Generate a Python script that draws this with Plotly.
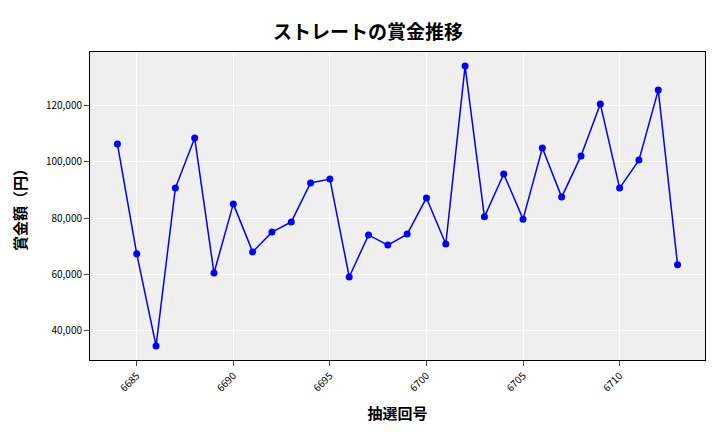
import plotly.graph_objects as go

draws = list(range(6684, 6714))
prizes = [106200, 67300, 34700, 90600, 108300, 60500, 85000, 68000, 75000, 78600,
          92400, 93800, 59100, 74000, 70400, 74300, 87100, 70800, 133800, 80400,
          95600, 79600, 104800, 87400, 102000, 120400, 90600, 100500, 125300, 63400]

font = "Noto Sans CJK JP"
fig = go.Figure(go.Scatter(
    x=draws, y=prizes, mode='lines+markers',
    line=dict(color='#0000ee', width=1.5),
    marker=dict(color='#0000ee', size=7),
))
fig.update_layout(
    width=720, height=432,
    margin=dict(l=78, r=23, t=44, b=80),
    paper_bgcolor='white', plot_bgcolor='#efefef',
    font=dict(family=font, color='black', size=10),
    title=dict(text='<b>ストレートの賞金推移</b>', x=0.5, xanchor='center', y=0.96,
               font=dict(size=19)),
    showlegend=False,
)
fig.update_xaxes(range=[6682.58, 6714.42], tickvals=[6685, 6690, 6695, 6700, 6705, 6710],
                 tickangle=-45, gridcolor='white', showline=True, linecolor='black',
                 mirror=True, ticks='outside',
                 title=dict(text='<b>抽選回号</b>', font=dict(size=15)))
fig.update_yaxes(range=[29700, 138800], tickvals=[40000, 60000, 80000, 100000, 120000],
                 tickformat=',', gridcolor='white', showline=True, linecolor='black',
                 mirror=True, ticks='outside',
                 title=dict(text='<b>賞金額（円）</b>', font=dict(size=15)))
fig.write_html("out.html")
